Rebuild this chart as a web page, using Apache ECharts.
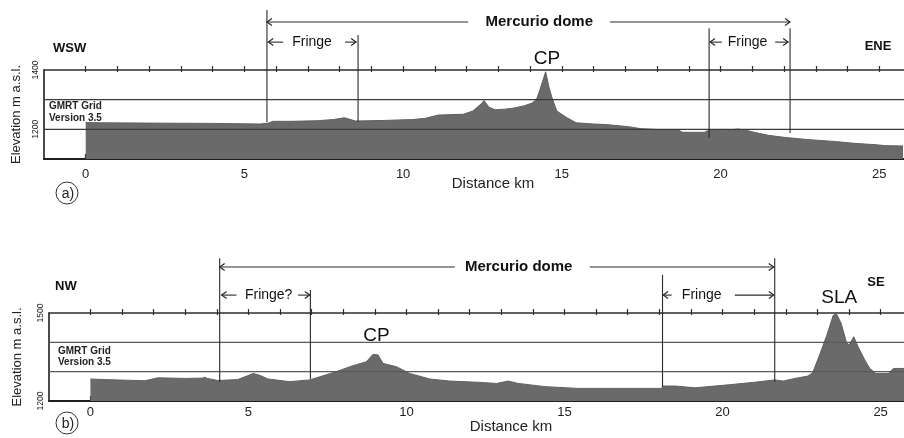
<!DOCTYPE html>
<html><head><meta charset="utf-8">
<script src="https://cdn.jsdelivr.net/npm/echarts@6/dist/echarts.min.js"></script>
<style>html,body{margin:0;padding:0;background:#fff}#c{width:904px;height:438px}</style>
</head><body><div id="c"></div>
<script>
// ---------- data ----------
const kmTicks = [0,1,2,3,4,5,6,7,8,9,10,11,12,13,14,15,16,17,18,19,20,21,22,23,24,25];
const kmLabels = [0,5,10,15,20,25];

// Profile (a) WSW-ENE : [distance km, elevation m]
const profileA = [[0,1223],[0.5,1222],[2,1221],[4,1220],[5.5,1218],[5.75,1221],[5.9,1227],[6.5,1227],[7.3,1229],[7.8,1233],[8.15,1239],[8.5,1228],[9.4,1230],[10.3,1233],[10.7,1237],[11.1,1248],[11.9,1251],[12.2,1262],[12.45,1285],[12.55,1297],[12.7,1275],[12.9,1266],[13.2,1268],[13.5,1272],[13.8,1279],[14.05,1288],[14.2,1300],[14.3,1330],[14.49,1394],[14.6,1340],[14.68,1310],[14.84,1262],[15.15,1240],[15.45,1222],[16,1218],[16.4,1216],[17.1,1209],[17.5,1202],[18.1,1199],[18.7,1196],[18.8,1190],[19.5,1190],[19.6,1196],[20.2,1197],[20.55,1201],[20.8,1197],[21.1,1189],[21.5,1180],[22,1173],[22.7,1166],[23.6,1159],[24.2,1153],[24.9,1148],[25.2,1145],[25.75,1144]];

// Profile (b) NW-SE : [distance km, elevation m]
const profileB = [[0,1275],[0.45,1273],[1.72,1269],[2.14,1279],[2.98,1277],[3.55,1278],[3.62,1281],[3.7,1277],[4.03,1270],[4.66,1273],[4.95,1285],[5.15,1294],[5.35,1288],[5.62,1275],[6.15,1268],[6.31,1266],[6.94,1272],[7.36,1286],[7.78,1300],[8.21,1317],[8.73,1334],[8.94,1359],[9.1,1357],[9.26,1328],[9.68,1317],[10.1,1294],[10.74,1275],[11.37,1268],[12.22,1264],[12.85,1260],[13.22,1268],[13.53,1260],[14.38,1249],[15.43,1243],[16.49,1243],[18.07,1243],[18.12,1251],[18.5,1251],[19.13,1245],[20.18,1255],[21.02,1264],[21.65,1272],[21.92,1268],[22.29,1277],[22.7,1285],[22.85,1296],[23.08,1360],[23.3,1425],[23.5,1492],[23.6,1498],[23.75,1465],[23.92,1400],[24.0,1391],[24.15,1419],[24.3,1382],[24.5,1340],[24.65,1312],[24.85,1294],[25.25,1294],[25.4,1311],[25.75,1311]];

const elevLabelsA = [1200,1400];
const elevLabelsB = [1200,1500];
const gridLevelsA = [1300,1200];
const gridLevelsB = [1400,1300];
const xRangeA = [-1.314,25.78];
const yRangeA = [1100,1400];
const xRangeB = [-1.31,25.74];
const yRangeB = [1200,1500];

// annotations: vertical lines [km, top elev, bottom elev]
const vlinesA = [[5.71,1602,1225],[8.58,1518,1225],[19.64,1541,1171],[22.19,1541,1188]];
const vlinesB = [[4.09,1687,1265],[6.96,1578,1275],[18.1,1630,1248],[21.65,1687,1265]];
// arrows [from km, to km, elev, head side]
const arrowsA = [[5.71,12.05,1562,'l'],[16.52,22.19,1562,'r'],[5.75,6.22,1494,'l'],[8.17,8.52,1494,'r'],[19.67,20.04,1494,'l'],[21.72,22.13,1494,'r']];
const arrowsB = [[4.09,11.53,1657,'l'],[15.8,21.62,1657,'r'],[4.15,4.62,1561,'l'],[6.57,6.94,1561,'r'],[18.12,18.39,1561,'l'],[20.39,21.62,1561,'r']];
// text labels [text, km, elev, kind]
const labelsA = [['Mercurio dome',14.29,1562,'title'],['Fringe',7.13,1494,'fringe'],['Fringe',20.85,1494,'fringe'],['CP',14.53,1437,'peak']];
const labelsB = [['Mercurio dome',13.55,1657,'title'],['Fringe?',5.64,1561,'fringe'],['Fringe',19.34,1561,'fringe'],['CP',9.05,1421,'peak'],['SLA',23.69,1553,'peak']];

// ---------- styles ----------
const FONT = '"Liberation Sans", Arial, sans-serif';
const kindStyle = {
  title: {fontSize:15, fontWeight:'bold'},
  fringe: {fontSize:14, fontWeight:'normal'},
  peak: {fontSize:19, fontWeight:'normal'}
};

function annot(vlines, arrows, labels, levels, xr, levelColor){
  return function(params, api){
    const ch = [];
    levels.forEach(lv=>{
      const a = api.coord([xr[0], lv]), b = api.coord([xr[1], lv]);
      ch.push({type:'line', shape:{x1:a[0],y1:a[1],x2:b[0]+2,y2:b[1]}, style:{stroke:levelColor, lineWidth:1.4}});
    });
    vlines.forEach(v=>{
      const a = api.coord([v[0], v[1]]), b = api.coord([v[0], v[2]]);
      ch.push({type:'line', shape:{x1:a[0],y1:a[1],x2:b[0],y2:b[1]}, style:{stroke:'#2a2a2a', lineWidth:1.1}});
    });
    arrows.forEach(r=>{
      const a = api.coord([r[0], r[2]]), b = api.coord([r[1], r[2]]);
      ch.push({type:'line', shape:{x1:a[0],y1:a[1],x2:b[0],y2:b[1]}, style:{stroke:'#2a2a2a', lineWidth:1.1}});
      const hx = r[3]==='l' ? a[0] : b[0];
      const d = r[3]==='l' ? 5 : -5;
      ch.push({type:'polyline', shape:{points:[[hx+d,a[1]-3.5],[hx,a[1]],[hx+d,a[1]+3.5]]}, style:{stroke:'#2a2a2a', lineWidth:1.2, fill:null}});
    });
    labels.forEach(t=>{
      const p = api.coord([t[1], t[2]]);
      const k = kindStyle[t[3]];
      ch.push({type:'text', x:p[0], y:p[1], style:{text:t[0], fontSize:k.fontSize, fontWeight:k.fontWeight, fontFamily:FONT, fill:'#111', align:'center', verticalAlign:'middle', textAlign:'center', textVerticalAlign:'middle'}});
    });
    return {type:'group', children:ch};
  };
}

function xAxes(gi, xr, labelMargin){
  return [
    {type:'value', gridIndex:gi, position:'bottom', min:xr[0], max:xr[1],
     axisLine:{show:true, onZero:false, lineStyle:{color:'#1e1e1e', width:2}},
     axisTick:{show:true, inside:true, length:5, customValues:kmTicks, lineStyle:{color:'#1e1e1e', width:1.2}},
     axisLabel:{show:true, customValues:kmLabels, margin:labelMargin, fontSize:13, color:'#222', fontFamily:FONT},
     splitLine:{show:false}},
    {type:'value', gridIndex:gi, position:'top', min:xr[0], max:xr[1],
     axisLine:{show:true, onZero:false, lineStyle:{color:'#2e2e2e', width:1.5}},
     axisTick:{show:true, inside:false, length:4, customValues:kmTicks, lineStyle:{color:'#2e2e2e', width:1.2}},
     axisLabel:{show:false}, splitLine:{show:false}},
    {type:'value', gridIndex:gi, position:'top', min:xr[0], max:xr[1],
     axisLine:{show:false, onZero:false},
     axisTick:{show:true, inside:true, length:2, customValues:kmTicks, lineStyle:{color:'#2e2e2e', width:1.2}},
     axisLabel:{show:false}, splitLine:{show:false}}
  ];
}
function yAxis(gi, yr, labels, gap){
  return {type:'value', gridIndex:gi, position:'left', min:yr[0], max:yr[1],
    name:'Elevation m a.s.l.', nameLocation:'middle', nameRotate:90, nameGap:gap,
    nameTextStyle:{fontSize:13, color:'#222', fontFamily:FONT},
    axisLine:{show:true, onZero:false, lineStyle:{color:'#1e1e1e', width:1.6}},
    axisTick:{show:false},
    axisLabel:{show:true, customValues:labels, rotate:90, fontSize:8.5, margin:4, color:'#222', fontFamily:FONT,
      formatter:function(v){ return String(Math.round(v)); }},
    splitLine:{show:false}};
}

const chart = echarts.init(document.getElementById('c'), null, {renderer:'canvas'});
chart.setOption({
  animation:false,
  backgroundColor:'#fff',
  grid:[
    {left:44, right:0, top:70, height:89, containLabel:false},
    {left:49, right:0, top:313, height:88, containLabel:false}
  ],
  xAxis:[...xAxes(0, xRangeA, 9), ...xAxes(1, xRangeB, 5)],
  yAxis:[yAxis(0, yRangeA, elevLabelsA, 20), yAxis(1, yRangeB, elevLabelsB, 25)],
  series:[
    {type:'line', xAxisIndex:0, yAxisIndex:0, data:profileA, showSymbol:false, symbol:'none', z:2,
     lineStyle:{color:'#616161', width:1}, areaStyle:{color:'#6a6a6a', opacity:1, origin:'start'}},
    {type:'line', xAxisIndex:3, yAxisIndex:1, data:profileB, showSymbol:false, symbol:'none', z:2,
     lineStyle:{color:'#616161', width:1}, areaStyle:{color:'#6a6a6a', opacity:1, origin:'start'}},
    {type:'custom', xAxisIndex:0, yAxisIndex:0, data:[[0,yRangeA[0]]], z:5, silent:true, clip:false,
     renderItem:annot(vlinesA, arrowsA, labelsA, gridLevelsA, xRangeA, '#3a3a3a')},
    {type:'custom', xAxisIndex:3, yAxisIndex:1, data:[[0,yRangeB[0]]], z:5, silent:true, clip:false,
     renderItem:annot(vlinesB, arrowsB, labelsB, gridLevelsB, xRangeB, '#5a5a5a')}
  ],
  graphic:[
    {type:'text', x:53, y:48, style:{text:'WSW', fontSize:13, fontWeight:'bold', fontFamily:FONT, fill:'#111', align:'left', verticalAlign:'middle', textAlign:'left', textVerticalAlign:'middle'}},
    {type:'text', x:878, y:46, style:{text:'ENE', fontSize:13, fontWeight:'bold', fontFamily:FONT, fill:'#111', align:'center', verticalAlign:'middle', textAlign:'center', textVerticalAlign:'middle'}},
    {type:'text', x:55, y:286, style:{text:'NW', fontSize:13, fontWeight:'bold', fontFamily:FONT, fill:'#111', align:'left', verticalAlign:'middle', textAlign:'left', textVerticalAlign:'middle'}},
    {type:'text', x:876, y:282, style:{text:'SE', fontSize:13, fontWeight:'bold', fontFamily:FONT, fill:'#111', align:'center', verticalAlign:'middle', textAlign:'center', textVerticalAlign:'middle'}},
    {type:'text', x:49, y:106, style:{text:'GMRT Grid', fontSize:10, fontWeight:'bold', fontFamily:FONT, fill:'#222', align:'left', verticalAlign:'middle', textAlign:'left', textVerticalAlign:'middle'}},
    {type:'text', x:49, y:118, style:{text:'Version 3.5', fontSize:10, fontWeight:'bold', fontFamily:FONT, fill:'#222', align:'left', verticalAlign:'middle', textAlign:'left', textVerticalAlign:'middle'}},
    {type:'text', x:58, y:351, style:{text:'GMRT Grid', fontSize:10, fontWeight:'bold', fontFamily:FONT, fill:'#222', align:'left', verticalAlign:'middle', textAlign:'left', textVerticalAlign:'middle'}},
    {type:'text', x:58, y:362, style:{text:'Version 3.5', fontSize:10, fontWeight:'bold', fontFamily:FONT, fill:'#222', align:'left', verticalAlign:'middle', textAlign:'left', textVerticalAlign:'middle'}},
    {type:'text', x:493, y:184, style:{text:'Distance km', fontSize:15, fontFamily:FONT, fill:'#222', align:'center', verticalAlign:'middle', textAlign:'center', textVerticalAlign:'middle'}},
    {type:'text', x:511, y:427, style:{text:'Distance km', fontSize:15, fontFamily:FONT, fill:'#222', align:'center', verticalAlign:'middle', textAlign:'center', textVerticalAlign:'middle'}},
    {type:'circle', shape:{cx:67, cy:193, r:11}, style:{fill:'none', stroke:'#333', lineWidth:1}},
    {type:'text', x:68, y:194, style:{text:'a)', fontSize:14, fontFamily:FONT, fill:'#222', align:'center', verticalAlign:'middle', textAlign:'center', textVerticalAlign:'middle'}},
    {type:'circle', shape:{cx:67, cy:423, r:11}, style:{fill:'none', stroke:'#333', lineWidth:1}},
    {type:'text', x:68, y:424, style:{text:'b)', fontSize:14, fontFamily:FONT, fill:'#222', align:'center', verticalAlign:'middle', textAlign:'center', textVerticalAlign:'middle'}}
  ]
});
</script>
</body></html>
